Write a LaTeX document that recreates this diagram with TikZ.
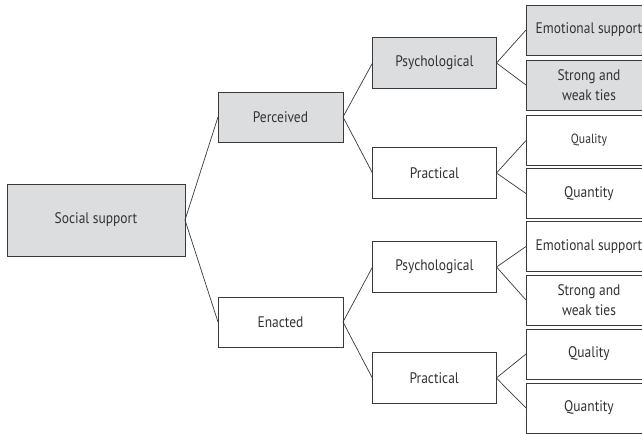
\documentclass[tikz,border=0pt]{standalone}
\usepackage{fontspec}
\setmainfont[FakeStretch=0.88]{PT Sans}
\definecolor{boxgray}{HTML}{DCDDDF}
\definecolor{linegray}{HTML}{3A3A3A}
\definecolor{textgray}{HTML}{333333}
\begin{document}
\begin{tikzpicture}[x=1pt,y=-1pt,
  box/.style={draw=linegray,line width=0.8pt,inner sep=0pt,outer sep=0pt,
    align=center,text=textgray,font=\fontsize{15.3}{19.5}\selectfont},
  shaded/.style={box,fill=boxgray},
  plain/.style={box,fill=white},
  mid/.style={minimum width=124pt,minimum height=50.5pt},
  leaf/.style={minimum width=126pt,minimum height=50pt},
  link/.style={draw=linegray,line width=0.7pt}]
\clip (0,0) rectangle (642,434);
\fill[white] (0,0) rectangle (642,434);
\node[shaded,minimum width=178pt,minimum height=72pt] (soc) at (96,220) {Social support};
\node[shaded,minimum width=125pt,minimum height=50pt] (per) at (280.5,117) {Perceived};
\node[plain,minimum width=125pt,minimum height=50pt] (ena) at (280.5,322) {Enacted};
\node[shaded,mid] (psy1) at (434.5,63) {Psychological};
\node[plain,mid] (pra1) at (434.5,173) {Practical};
\node[plain,mid] (psy2) at (434.5,267) {Psychological};
\node[plain,mid] (pra2) at (434.3,378) {Practical};
\node[shaded,leaf] (e1) at (589,30) {Emotional support};
\node[shaded,leaf] (s1) at (589,85) {Strong and\\weak ties};
\node[plain,leaf,font=\fontsize{13.3}{15}\selectfont] (q1) at (589,140.5) {Quality};
\node[plain,leaf] (n1) at (589,193.5) {Quantity};
\node[plain,leaf] (e2) at (589,246.5) {Emotional support};
\node[plain,leaf] (s2) at (589,300) {Strong and\\weak ties};
\node[plain,leaf] (q2) at (589,354) {Quality};
\node[plain,leaf] (n2) at (589,408) {Quantity};
\draw[link] (soc.east) -- (per.west);
\draw[link] (soc.east) -- (ena.west);
\draw[link] (per.east) -- (psy1.west);
\draw[link] (per.east) -- (pra1.west);
\draw[link] (ena.east) -- (psy2.west);
\draw[link] (ena.east) -- (pra2.west);
\draw[link] (psy1.east) -- (e1.west);
\draw[link] (psy1.east) -- (s1.west);
\draw[link] (pra1.east) -- (q1.west);
\draw[link] (pra1.east) -- (n1.west);
\draw[link] (psy2.east) -- (e2.west);
\draw[link] (psy2.east) -- (s2.west);
\draw[link] (pra2.east) -- (q2.west);
\draw[link] (pra2.east) -- (n2.west);
\end{tikzpicture}
\end{document}
